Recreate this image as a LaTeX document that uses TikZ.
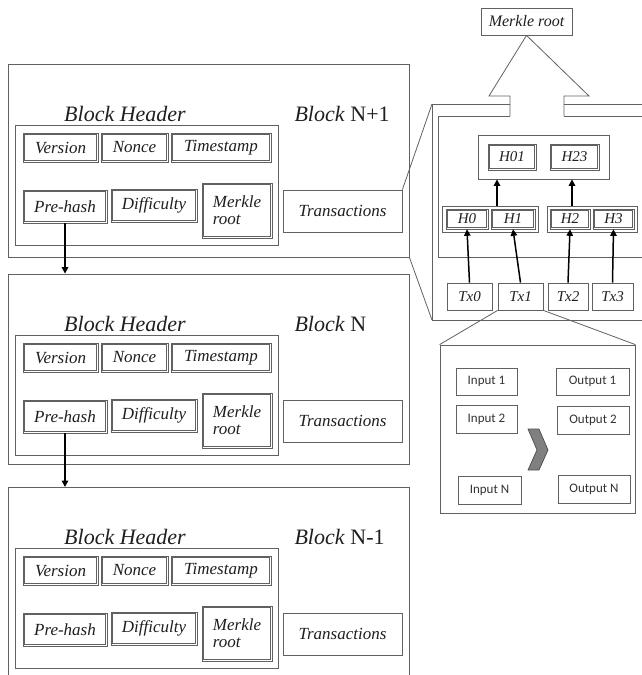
\documentclass[tikz,border=0pt]{standalone}
\usepackage{fontspec}
\setmainfont{Liberation Serif}
\newfontfamily\carl{Carlito}
\usetikzlibrary{arrows.meta}
\tikzset{
  ln/.style={draw=black!62, line width=0.8pt},
  frame/.style={ln, inner sep=0pt},
  sbox/.style={ln, inner sep=0pt, text=black!88, font=\itshape\fontsize{17}{18}\selectfont},
  inln/.style={draw=black!62, line width=0.6pt},
  tbox/.style={sbox, font=\itshape\fontsize{15}{16}\selectfont},
  iobox/.style={ln, inner sep=0pt, text=black!80, font=\carl\fontsize{13}{14}\selectfont},
  arr/.style={line width=1.5pt, draw=black, -{Triangle[length=6.5pt,width=6.5pt]}},
  hdr/.style={text=black!88, font=\itshape\fontsize{22}{24}\selectfont},
  blab/.style={text=black!88, anchor=west, font=\fontsize{22}{24}\selectfont},
}
% \bx{name}{style}{x1}{y1}{x2}{y2}{text}
\newcommand\bx[7]{\node[#2, minimum width={(#5)-(#3)}, minimum height={(#6)-(#4)}] (#1) at ({((#3)+(#5))/2},{((#4)+(#6))/2}) {#7};}
% double-framed box
\newcommand\dbx[7]{\bx{#1}{#2, line width=0.6pt}{#3}{#4}{#5}{#6}{#7}%
  \draw[inln] ([shift={(1.8,1.8)}]#1.north west) rectangle ([shift={(-1.8,-1.8)}]#1.south east);}
% \blk{prefix}{top}{label}
\newcommand\blk[3]{%
  \node[hdr] (#1-hl) at (125,{#2+50}) {Block Header};
  \node[blab] (#1-bl) at (291,{#2+50}) {\textit{Block} #3};
  \bx{#1-hr}{frame}{15}{#2+61}{278}{#2+181}{}
  \dbx{#1-ver}{sbox}{23}{#2+69}{98}{#2+98}{Version}
  \dbx{#1-non}{sbox}{101}{#2+69}{168}{#2+98}{Nonce}
  \dbx{#1-tim}{sbox}{171}{#2+69}{271}{#2+98}{Timestamp}
  \dbx{#1-pre}{sbox}{23}{#2+126}{107}{#2+159}{Pre-hash}
  \dbx{#1-dif}{sbox}{111}{#2+125}{197}{#2+158}{Difficulty}
  \dbx{#1-mr}{sbox, align=left}{202}{#2+119}{272}{#2+174}{Merkle\\[-1pt]root}
  \bx{#1-tr}{sbox}{283}{#2+126}{402}{#2+168}{Transactions}
}
\begin{document}
\begin{tikzpicture}[x=1pt,y=-1pt]
\useasboundingbox[fill=white] (0,0) rectangle (642,675);

% ---- blocks ----
\bx{b1-out}{frame}{8}{64}{409}{257}{}
\blk{b1}{64}{N+1}
\bx{b2-out}{frame}{8}{274}{409}{464}{}
\blk{b2}{274}{N}
\coordinate (b3-tl) at (8,487);
\coordinate (b3-tr) at (409,487);
\draw[ln] (8,676) -- (b3-tl) -- (b3-tr) -- (409,676);
\blk{b3}{487}{N-1}

\draw[arr] (b1-pre.south) -- (b1-pre.south |- b2-out.north);
\draw[arr] (b2-pre.south) -- (b2-pre.south |- b3-tl);

% ---- Merkle tree panel ----
\bx{mroot}{sbox, font=\itshape\fontsize{16}{17}\selectfont}{481}{8}{572}{35}{Merkle root}
\coordinate (po-tl) at (432,104);
\coordinate (po-bl) at (432,320);
\draw[ln] (510,116) -- (510,96) -- (489,96) -- (mroot.south) -- (589,96) -- (564,96) -- (564,116);
\draw[ln] (642,104) -- (564,104);
\draw[ln] (510,104) -- (po-tl) -- (po-bl) -- (642,320);
\draw[ln] (642,116) -- (564,116);
\draw[ln] (510,116) -- (438,116) -- (438,257) -- (642,257);

\bx{c23}{frame}{478}{135}{609}{179}{}
\dbx{h01}{tbox}{488}{144}{536}{170}{H01}
\dbx{h23}{tbox}{550}{144}{599}{170}{H23}
\bx{g01}{frame}{442}{206}{538}{232}{}
\dbx{h0}{tbox}{446}{209}{488}{229}{H0}
\dbx{h1}{tbox}{491}{209}{535}{229}{H1}
\bx{g23}{frame}{547}{206}{637}{232}{}
\dbx{h2}{tbox}{550}{209}{590}{229}{H2}
\dbx{h3}{tbox}{593}{209}{634}{229}{H3}
\bx{tx0}{tbox}{447}{283}{492}{310}{Tx0}
\bx{tx1}{tbox}{498}{283}{543}{310}{Tx1}
\bx{tx2}{tbox}{548}{283}{588}{310}{Tx2}
\bx{tx3}{tbox}{592}{283}{633}{310}{Tx3}

\draw[arr] (tx0.north) -- (h0.south);
\draw[arr] (tx1.north) -- (h1.south);
\draw[arr] (tx2.north) -- (h2.south);
\draw[arr] (tx3.north) -- (h3.south);
\draw[arr] ([xshift=7pt]g01.north) -- ([xshift=7pt]g01.north |- c23.south);
\draw[arr] ([xshift=-20pt]g23.north) -- ([xshift=-20pt]g23.north |- c23.south);

% zoom connectors
\draw[ln] (b1-tr.north east) -- (po-tl);
\draw[ln] (b1-out.south east) -- (po-bl);

% ---- transaction detail panel ----
\bx{io}{frame}{440}{345}{635}{513}{}
\draw[ln] (tx1.south west) -- (io.north west);
\draw[ln] (tx1.south east) -- (io.north east);
\bx{in1}{iobox}{456}{368}{517}{395}{Input 1}
\bx{out1}{iobox}{556}{368}{629}{395}{Output 1}
\bx{in2}{iobox}{456}{405}{517}{433}{Input 2}
\bx{out2}{iobox}{557}{406}{629}{434}{Output 2}
\bx{inN}{iobox}{458}{476}{521}{504}{Input N}
\bx{outN}{iobox}{558}{475}{630}{503}{Output N}
\draw[draw=black!70, fill=black!50, line width=0.7pt, line join=round]
  (528,429) -- (539,429) -- (548,450) -- (539,470) -- (528,470) -- (537,450) -- cycle;
\end{tikzpicture}
\end{document}
